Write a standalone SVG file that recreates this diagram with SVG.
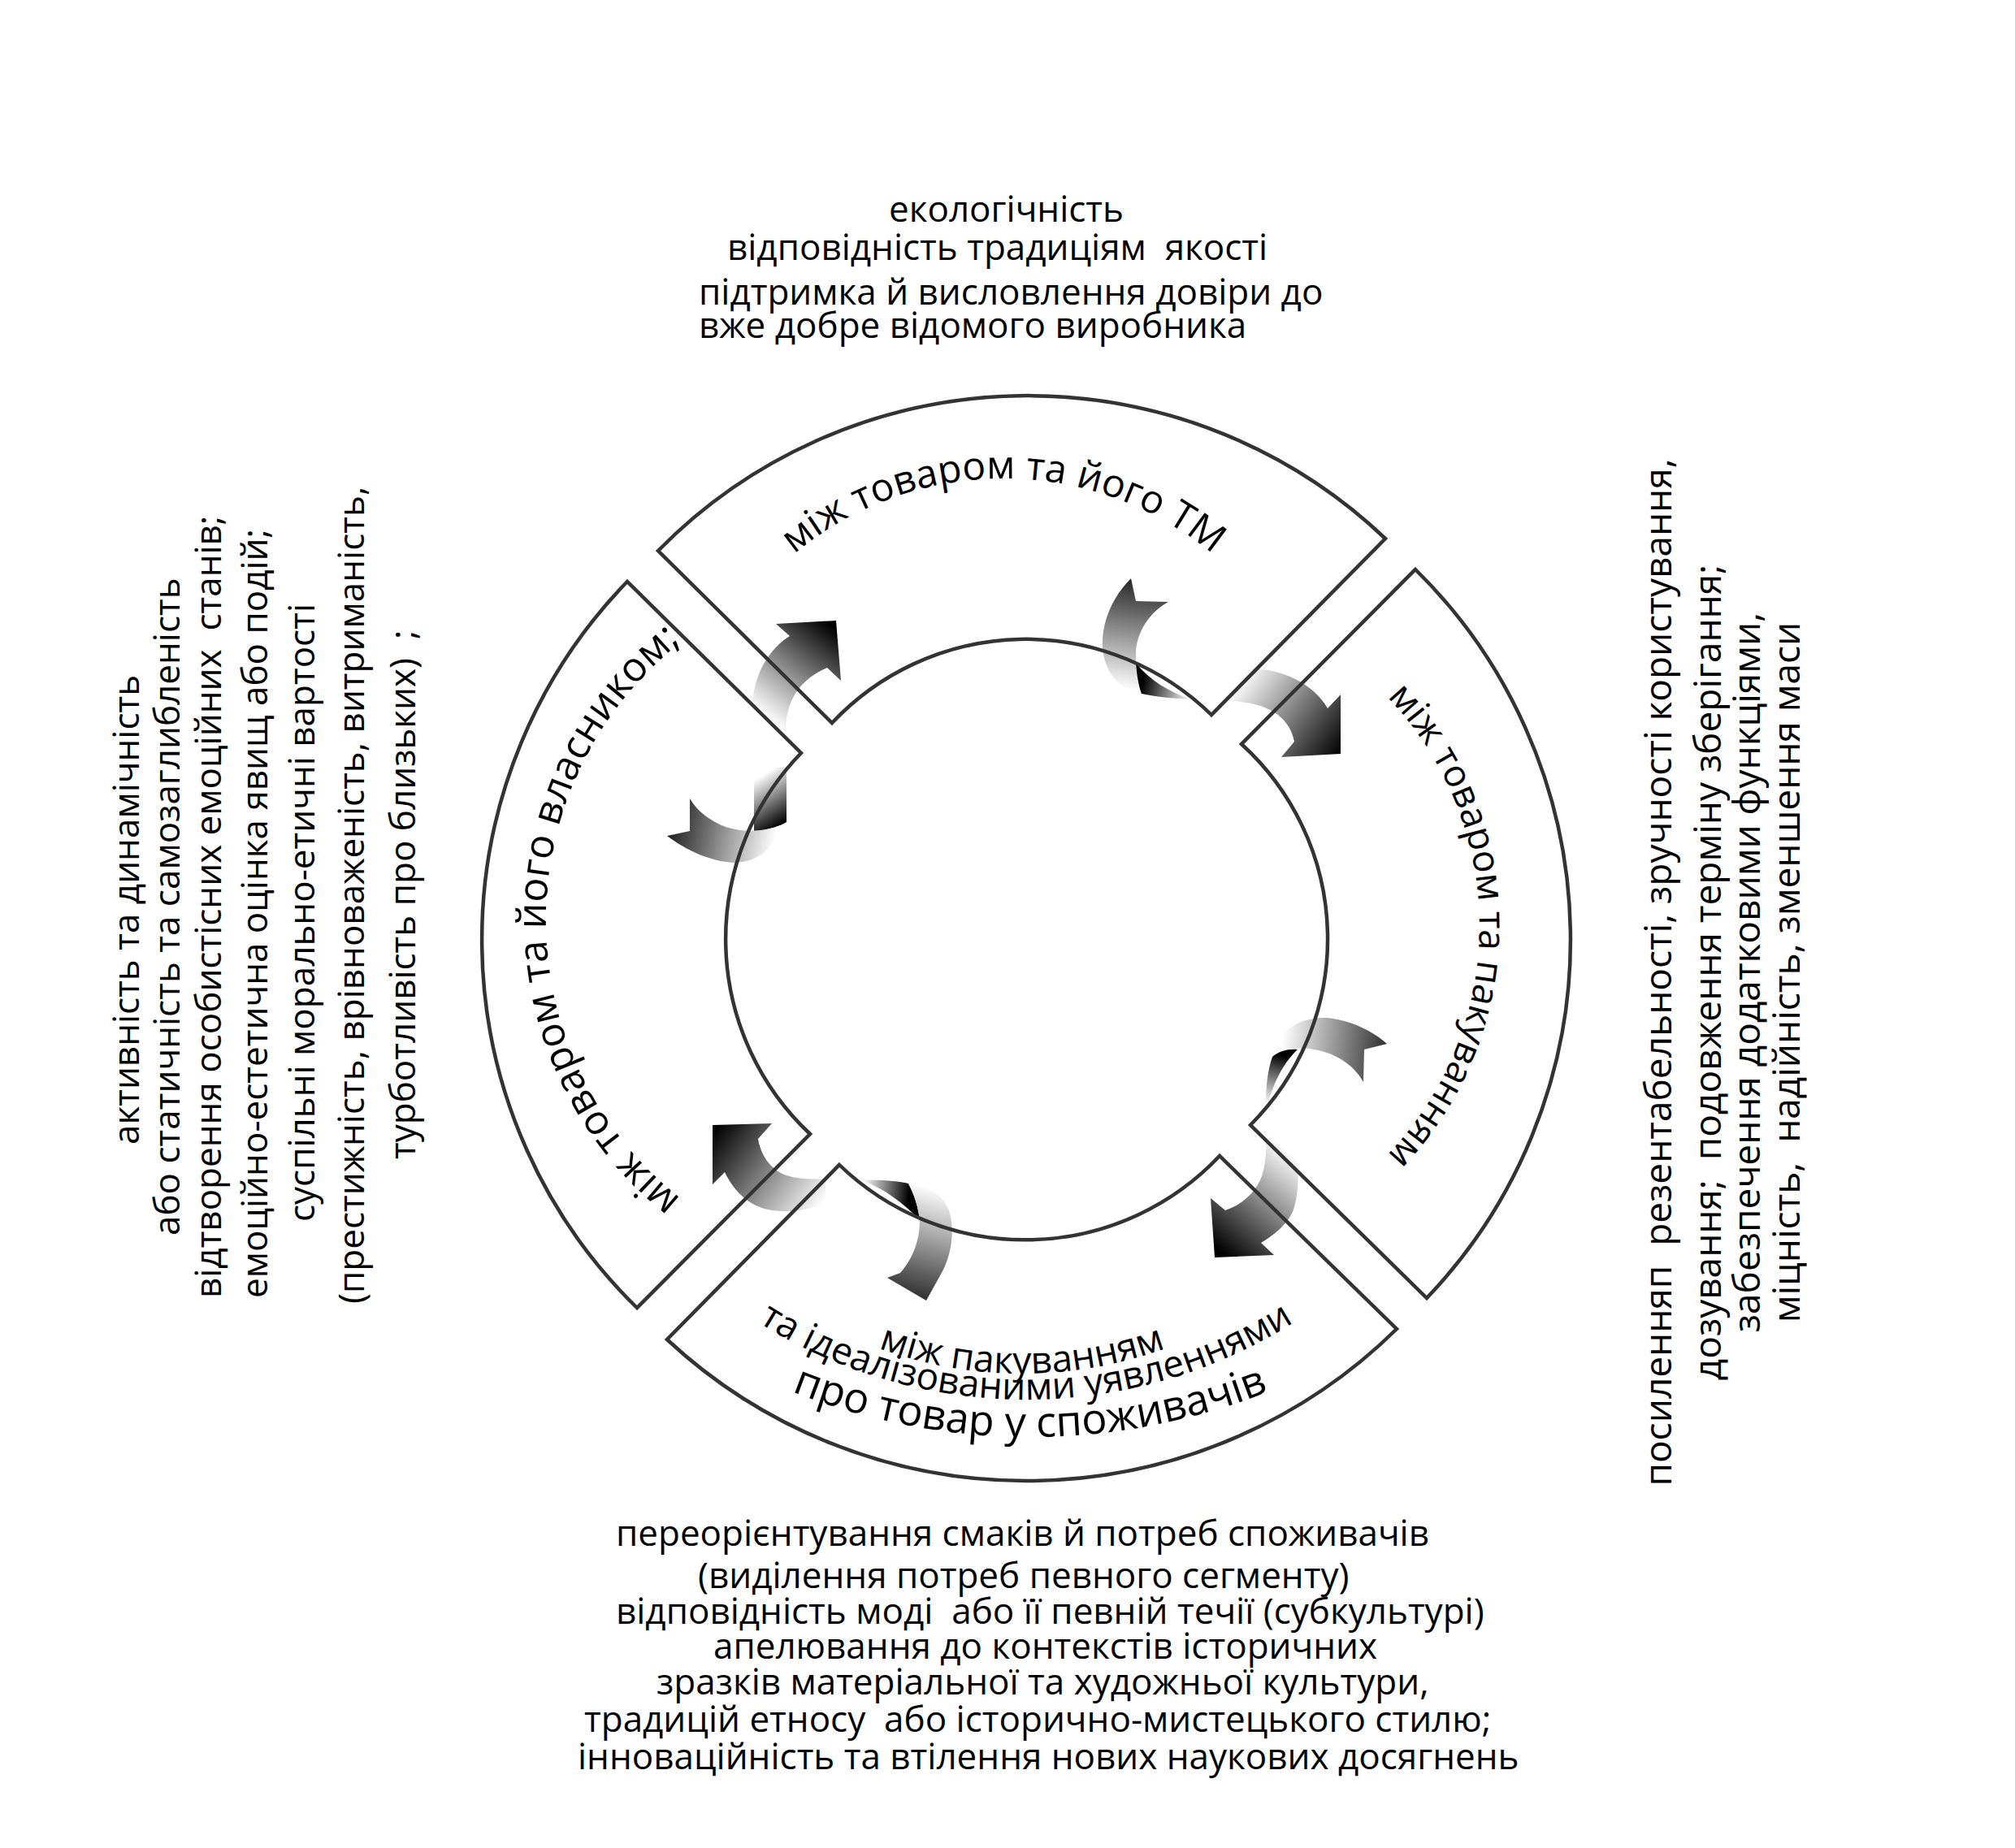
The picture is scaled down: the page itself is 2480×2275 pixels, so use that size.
<svg xmlns="http://www.w3.org/2000/svg" xmlns:xlink="http://www.w3.org/1999/xlink" width="2480" height="2275" viewBox="0 0 2480 2275">
<style>
.seg { fill: none; stroke: #333; stroke-width: 4.5; stroke-linejoin: miter; }
.t { font-family: 'Open Sans', 'Noto Sans', 'DejaVu Sans', sans-serif; fill: #000; }
.blk { font-size: 44px; }
.rblk { font-size: 46px; }
</style>
<defs>
<linearGradient id="gA" gradientUnits="userSpaceOnUse" x1="1030" y1="775" x2="945" y2="885"><stop offset="0" stop-color="#000"/><stop offset="1" stop-color="#fff"/></linearGradient>
<linearGradient id="gBf" gradientUnits="userSpaceOnUse" x1="932" y1="958" x2="966" y2="1012"><stop offset="0" stop-color="#fff"/><stop offset="1" stop-color="#000"/></linearGradient>
<linearGradient id="gB" gradientUnits="userSpaceOnUse" x1="952" y1="1045" x2="825" y2="1020"><stop offset="0" stop-color="#fff"/><stop offset="1" stop-color="#222"/></linearGradient>
<linearGradient id="gC" gradientUnits="userSpaceOnUse" x1="1395" y1="715" x2="1378" y2="848"><stop offset="0" stop-color="#2a2a2a"/><stop offset="1" stop-color="#fff"/></linearGradient>
<linearGradient id="gCf" gradientUnits="userSpaceOnUse" x1="1405" y1="846" x2="1465" y2="860"><stop offset="0" stop-color="#000"/><stop offset="1" stop-color="#fff"/></linearGradient>
<linearGradient id="gD" gradientUnits="userSpaceOnUse" x1="1525" y1="838" x2="1650" y2="928"><stop offset="0" stop-color="#fff"/><stop offset="1" stop-color="#000"/></linearGradient>
<linearGradient id="gE" gradientUnits="userSpaceOnUse" x1="1578" y1="1278" x2="1705" y2="1290"><stop offset="0" stop-color="#fff"/><stop offset="1" stop-color="#333"/></linearGradient>
<linearGradient id="gEf" gradientUnits="userSpaceOnUse" x1="1574" y1="1298" x2="1558" y2="1358"><stop offset="0" stop-color="#000"/><stop offset="1" stop-color="#fff"/></linearGradient>
<linearGradient id="gF" gradientUnits="userSpaceOnUse" x1="1590" y1="1420" x2="1495" y2="1535"><stop offset="0" stop-color="#fff"/><stop offset="1" stop-color="#000"/></linearGradient>
<linearGradient id="gG" gradientUnits="userSpaceOnUse" x1="880" y1="1390" x2="1010" y2="1485"><stop offset="0" stop-color="#000"/><stop offset="1" stop-color="#fff"/></linearGradient>
<linearGradient id="gHf" gradientUnits="userSpaceOnUse" x1="1062" y1="1455" x2="1120" y2="1462"><stop offset="0" stop-color="#fff"/><stop offset="1" stop-color="#000"/></linearGradient>
<linearGradient id="gH" gradientUnits="userSpaceOnUse" x1="1160" y1="1465" x2="1125" y2="1595"><stop offset="0" stop-color="#fff"/><stop offset="1" stop-color="#333"/></linearGradient>
<path id="tpTop" d="M 832 992 A 403 403 0 0 1 1638 992"/>
<path id="tpRight" d="M 1415 734 A 406 406 0 0 1 1415 1546"/>
<path id="tpLeft" d="M 1108 1569 A 436 436 0 0 1 1108 697"/>
<path id="tpB1" d="M 744 1177 A 514 514 0 0 0 1772 1177"/>
<path id="tpB2" d="M 644 1104 A 619 619 0 0 0 1882 1104"/>
<path id="tpB3" d="M 472 973 A 796 796 0 0 0 2064 973"/>
</defs>
<rect x="0" y="0" width="2480" height="2275" fill="#fff"/>

<g id="connectors">
<g id="arrow-top-left-up"><path fill="url(#gA)" d="M 1018 822 L 1035 838 L 1029 764 L 955 768 L 972 783 C 948 798 927 828 926 872 L 927 958 L 967 958 L 967 900 C 967 862 985 836 1018 822 Z"/></g>
<g id="arrow-top-left-down">
<path fill="url(#gBf)" d="M 928 945 L 968 945 L 968 1012 C 958 1018 944 1022 928 1024 Z"/>
<path fill="url(#gB)" d="M 849 983 L 849 1023 L 821 1029 C 845 1047 875 1061 905 1062 C 935 1061 954 1042 960 1016 C 940 1024 915 1025 893 1018 C 875 1011 858 999 849 983 Z"/>
</g>
<g id="arrow-top-right-up">
<path fill="url(#gC)" d="M 1392 712 L 1398 740 L 1438 741 C 1415 754 1401 775 1398 800 L 1398 818 C 1399 834 1401 845 1405 854 C 1385 851 1366 837 1359 810 C 1352 782 1362 742 1392 712 Z"/>
<path fill="url(#gCf)" d="M 1398 816 C 1415 838 1440 852 1466 861 C 1445 860 1425 858 1405 854 C 1401 843 1399 830 1398 816 Z"/>
</g>
<g id="arrow-top-right-down"><path fill="url(#gD)" d="M 1512 826 C 1560 816 1612 834 1634 872 L 1650 855 L 1650 928 L 1577 932 L 1593 913 C 1588 884 1562 864 1512 863 Z"/></g>
<g id="arrow-bottom-right-up">
<path fill="url(#gE)" d="M 1566 1301 C 1572 1268 1600 1252 1632 1253 C 1660 1255 1688 1268 1707 1285 L 1679 1292 L 1678 1332 C 1666 1310 1642 1295 1612 1291 C 1592 1289 1574 1294 1566 1301 Z"/>
<path fill="url(#gEf)" d="M 1566 1301 C 1574 1294 1586 1291 1597 1292 C 1582 1306 1568 1330 1561 1358 L 1558 1358 C 1558 1335 1561 1315 1566 1301 Z"/>
</g>
<g id="arrow-bottom-right-down"><path fill="url(#gF)" d="M 1557 1392 L 1594 1400 C 1599 1430 1600 1468 1591 1492 C 1583 1508 1570 1519 1552 1530 L 1568 1545 L 1495 1548 L 1490 1475 L 1508 1490 C 1526 1484 1545 1470 1553 1448 C 1559 1430 1559 1410 1557 1392 Z"/></g>
<g id="arrow-bottom-left-up"><path fill="url(#gG)" d="M 877 1385 L 950 1383 L 933 1402 C 936 1420 947 1440 968 1447 C 984 1452 1000 1452 1016 1451 L 1016 1481 C 996 1490 972 1493 950 1490 C 925 1486 905 1470 892 1443 L 877 1458 Z"/></g>
<g id="arrow-bottom-left-down">
<path fill="url(#gHf)" d="M 1060 1453 C 1085 1452 1105 1454 1118 1457 C 1125 1470 1130 1485 1132 1502 C 1112 1481 1088 1463 1060 1453 Z"/>
<path fill="url(#gH)" d="M 1118 1457 C 1142 1460 1160 1470 1168 1490 C 1175 1512 1172 1542 1160 1565 L 1140 1601 L 1092 1573 L 1108 1567 C 1123 1550 1132 1528 1132 1502 C 1130 1485 1125 1470 1118 1457 Z"/>
</g>
</g>

<g id="seg-top">
<path class="seg" d="M 810 678 A 638 638 0 0 1 1705 663 L 1491 880 A 327 327 0 0 0 1024 890 Z"/>
<text class="t" font-size="48"><textPath href="#tpTop" xlink:href="#tpTop" startOffset="50%" text-anchor="middle">між товаром та його ТМ</textPath></text>
</g>
<g id="seg-right">
<path class="seg" d="M 1742 701 A 639 639 0 0 1 1756 1598 L 1539 1385 A 324 324 0 0 0 1528 916 Z"/>
<text class="t" font-size="46"><textPath href="#tpRight" xlink:href="#tpRight" startOffset="50%" text-anchor="middle">між товаром та пакуванням</textPath></text>
</g>
<g id="seg-left">
<path class="seg" d="M 772 716 A 633 633 0 0 0 784 1610 L 997 1396 A 329 329 0 0 1 986 927 Z"/>
<text class="t" font-size="50"><textPath href="#tpLeft" xlink:href="#tpLeft" startOffset="50%" text-anchor="middle">між товаром та його власником;</textPath></text>
</g>
<g id="seg-bottom">
<path class="seg" d="M 1719 1636 A 649 649 0 0 1 821 1649 L 1033 1434 A 329 329 0 0 0 1501 1423 Z"/>
<text class="t" font-size="46"><textPath href="#tpB1" xlink:href="#tpB1" startOffset="50%" text-anchor="middle">між пакуванням</textPath></text>
<text class="t" font-size="46"><textPath href="#tpB2" xlink:href="#tpB2" startOffset="50%" text-anchor="middle">та ідеалізованими уявленнями</textPath></text>
<text class="t" font-size="52"><textPath href="#tpB3" xlink:href="#tpB3" startOffset="50%" text-anchor="middle">про товар у споживачів</textPath></text>
</g>

<g id="text-top" class="t blk">
<text x="1094" y="273">екологічність</text>
<text x="895" y="320">відповідність традиціям &#160;якості</text>
<text x="860" y="375">підтримка й висловлення довіри до</text>
<text x="860" y="416">вже добре відомого виробника</text>
</g>

<g id="text-bottom" class="t blk">
<text x="758" y="1903">переорієнтування смаків й потреб споживачів</text>
<text x="859" y="1955">(виділення потреб певного сегменту)</text>
<text x="758" y="1999">відповідність моді &#160;або її певній течії (субкультурі)</text>
<text x="878" y="2042">апелювання до контекстів історичних</text>
<text x="808" y="2086">зразків матеріальної та художньої культури,</text>
<text x="719" y="2132">традицій етносу &#160;або історично-мистецького стилю;</text>
<text x="711" y="2178">інноваційність та втілення нових наукових досягнень</text>
</g>

<g id="text-left" class="t blk">
<text transform="translate(171 1409) rotate(-90)">активність та динамічність</text>
<text transform="translate(221 1521) rotate(-90)">або статичність та самозаглибленість</text>
<text transform="translate(272 1598) rotate(-90)">відтворення особистісних емоційних &#160;станів;</text>
<text transform="translate(329 1598) rotate(-90)">емоційно-естетична оцінка явищ або подій;</text>
<text transform="translate(387 1504) rotate(-90)">суспільні морально-етичні вартості</text>
<text transform="translate(448 1605) rotate(-90)">(престижність, врівноваженість, витриманість,</text>
<text transform="translate(511 1427) rotate(-90)">турботливість про близьких) &#160;;</text>
</g>

<g id="text-right" class="t rblk" text-anchor="middle">
<text transform="translate(2057 1197) rotate(-90)">посиленняп &#160;резентабельності, зручності користування,</text>
<text transform="translate(2118 1197) rotate(-90)">дозування; &#160;подовження терміну зберігання;</text>
<text transform="translate(2166 1197) rotate(-90)">забезпечення додатковими функціями,</text>
<text transform="translate(2215 1197) rotate(-90)">міцність, &#160;надійність, зменшення маси</text>
</g>
</svg>
